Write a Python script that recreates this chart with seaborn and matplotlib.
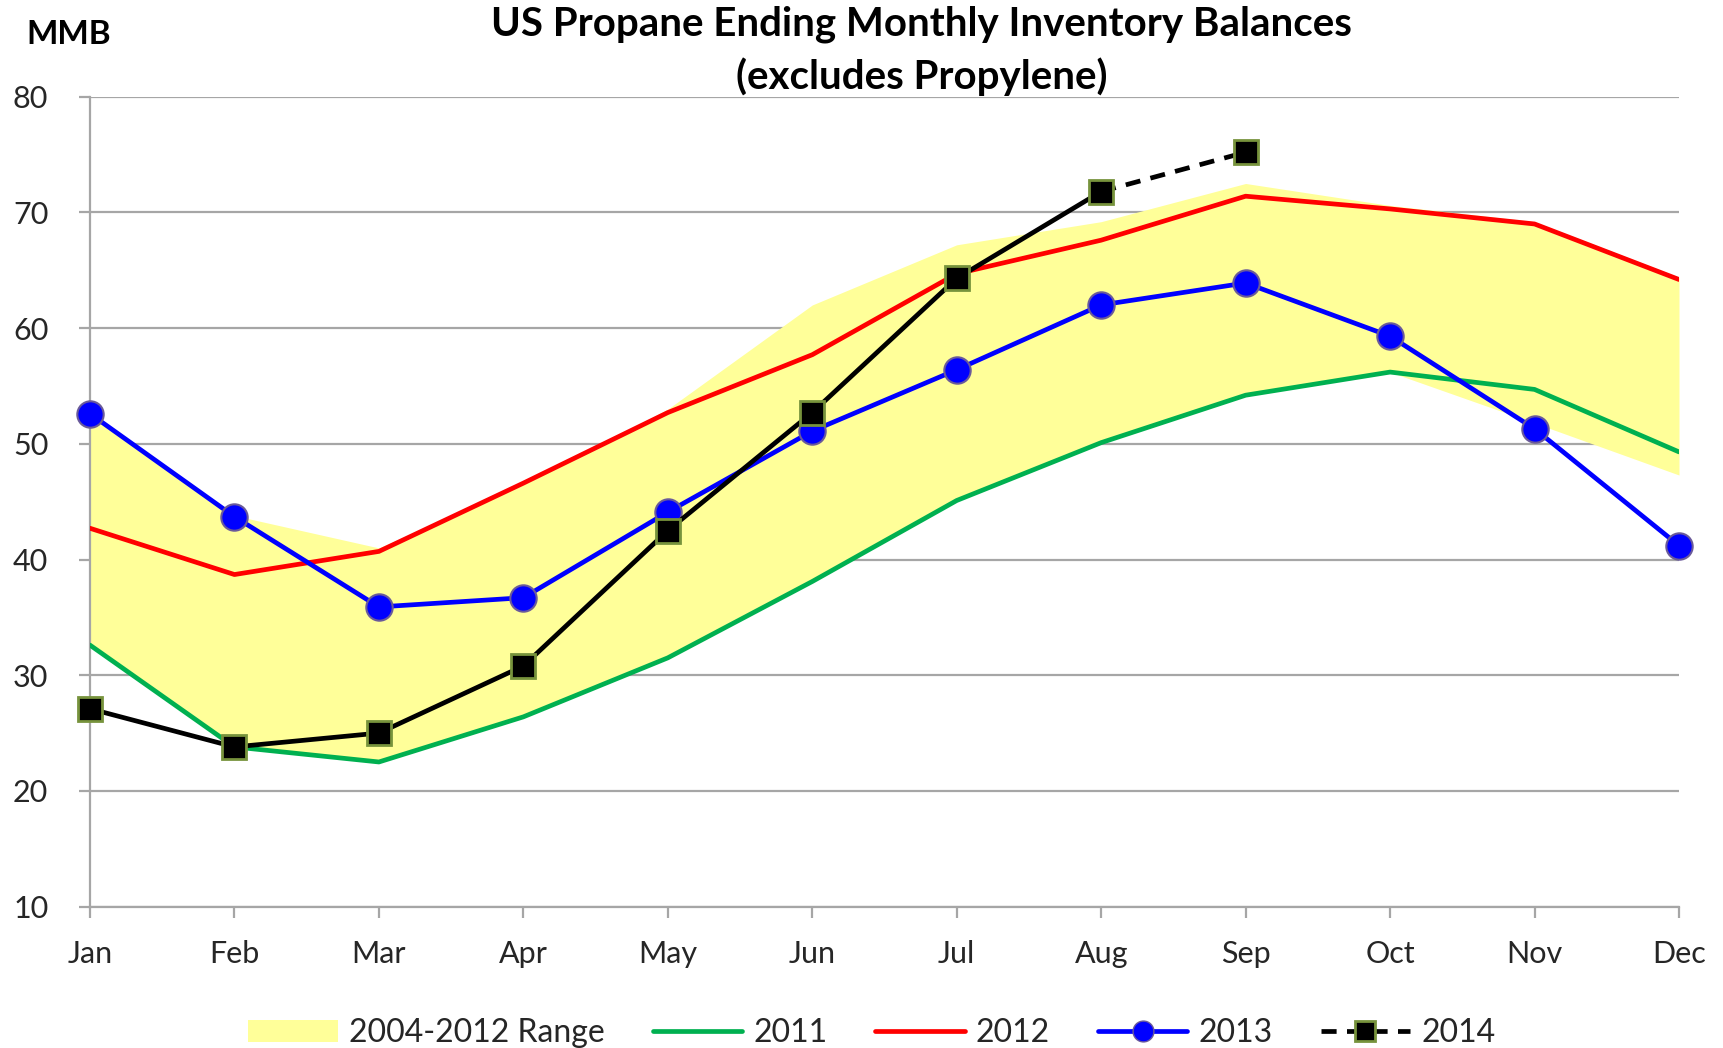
import numpy as np
import pandas as pd
import matplotlib
matplotlib.use("Agg")
import matplotlib.pyplot as plt
from matplotlib.lines import Line2D
from matplotlib.patches import Patch
import seaborn as sns

# --- dados (MMB) ---
meses = ['Jan', 'Feb', 'Mar', 'Apr', 'May', 'Jun', 'Jul', 'Aug', 'Sep', 'Oct', 'Nov', 'Dec']
faixa_min = [32.7, 23.8, 22.5, 26.4, 31.5, 38.1, 45.1, 50.1, 54.2, 56.2, 51.8, 47.3]
faixa_max = [52.6, 43.8, 41.0, 46.5, 53.0, 62.0, 67.2, 69.2, 72.5, 70.6, 69.2, 64.4]
v2011 = [32.6, 23.8, 22.5, 26.4, 31.5, 38.1, 45.1, 50.1, 54.2, 56.2, 54.7, 49.3]
v2012 = [42.7, 38.7, 40.7, 46.6, 52.7, 57.7, 64.7, 67.6, 71.4, 70.3, 69.0, 64.2]
v2013 = [52.6, 43.7, 35.9, 36.7, 44.1, 51.1, 56.4, 62.0, 63.9, 59.3, 51.3, 41.2]
v2014 = [27.1, 23.8, 25.0, 30.8, 42.5, 52.7, 64.3, 71.8, 75.2]
n_2014_real = 8  # Jan-Aug reais, Sep estimado (tracejado)

x = np.arange(len(meses))

sns.set_theme(style="white")
plt.rcParams['font.family'] = ['Lato', 'DejaVu Sans']

fig = plt.figure(figsize=(17.23, 10.48), dpi=100)
ax = fig.add_axes([90 / 1723, 1 - 906.6 / 1048, (1679 - 90) / 1723, (906.6 - 96.7) / 1048])

cinza = '#A6A6A6'
ax.fill_between(x, faixa_min, faixa_max, color='#FFFF99', linewidth=0, zorder=1)

lw = 3.4
tracejado = (0, (3.2, 2.2))
sns.lineplot(x=x, y=v2011, color='#00B050', linewidth=lw, ax=ax, zorder=3)
sns.lineplot(x=x, y=v2012, color='#FF0000', linewidth=lw, ax=ax, zorder=3)
sns.lineplot(x=x, y=v2013, color='#0000FF', linewidth=lw, marker='o', markersize=19,
             markeredgecolor='#6A5A9A', markeredgewidth=1.5, ax=ax, zorder=4, clip_on=False)

x14 = x[:len(v2014)]
ax.plot(x14[n_2014_real - 1:], v2014[n_2014_real - 1:], color='black', linewidth=lw,
        linestyle=tracejado, zorder=5)
sns.lineplot(x=x14[:n_2014_real], y=v2014[:n_2014_real], color='black', linewidth=lw, ax=ax, zorder=5)
ax.plot(x14, v2014, linestyle='none', marker='s', markersize=17.5, markerfacecolor='black',
        markeredgecolor='#77933C', markeredgewidth=2, zorder=6, clip_on=False)

ax.set_xlim(0, 11)
ax.set_ylim(10, 80)
ax.set_yticks(range(10, 81, 10))
ax.set_xticks(x)
ax.set_xticklabels(meses)
ax.set_axisbelow(True)
ax.yaxis.grid(True, color=cinza, linewidth=1.6)
ax.xaxis.grid(False)
sns.despine(ax=ax, top=True, right=True)
for s in ['left', 'bottom']:
    ax.spines[s].set_color(cinza)
    ax.spines[s].set_linewidth(1.6)
ax.tick_params(axis='y', which='major', direction='out', length=8, width=1.6, color=cinza,
               left=True, pad=22, labelsize=22, labelcolor='#262626')
ax.tick_params(axis='x', which='major', direction='out', length=8, width=1.6, color=cinza,
               bottom=True, pad=16, labelsize=22, labelcolor='#262626')
ax.set_xlabel('')
ax.set_ylabel('')

fig.text(0.535, 0.977, 'US Propane Ending Monthly Inventory Balances',
         ha='center', va='center', fontsize=29, fontweight='bold', color='black')
fig.text(0.535, 0.9265, '(excludes Propylene)',
         ha='center', va='center', fontsize=29, fontweight='bold', color='black')
fig.text(0.04, 0.967, 'MMB', ha='center', va='center', fontsize=24, fontweight='bold', color='black')

handles = [
    Patch(facecolor='#FFFF99', edgecolor='none', label='2004-2012 Range'),
    Line2D([], [], color='#00B050', linewidth=lw, label='2011'),
    Line2D([], [], color='#FF0000', linewidth=lw, label='2012'),
    Line2D([], [], color='#0000FF', linewidth=lw, marker='o', markersize=15,
           markeredgecolor='#6A5A9A', label='2013'),
    Line2D([], [], color='black', linewidth=lw, linestyle=tracejado, marker='s', markersize=14,
           markerfacecolor='black', markeredgecolor='#77933C', markeredgewidth=2, label='2014'),
]
fig.legend(handles=handles, loc='center', bbox_to_anchor=(0.506, 0.014), ncol=5, frameon=False,
           fontsize=23, handlelength=2.8, handletextpad=0.35, columnspacing=1.5)

fig.savefig('out.png', dpi=100)
